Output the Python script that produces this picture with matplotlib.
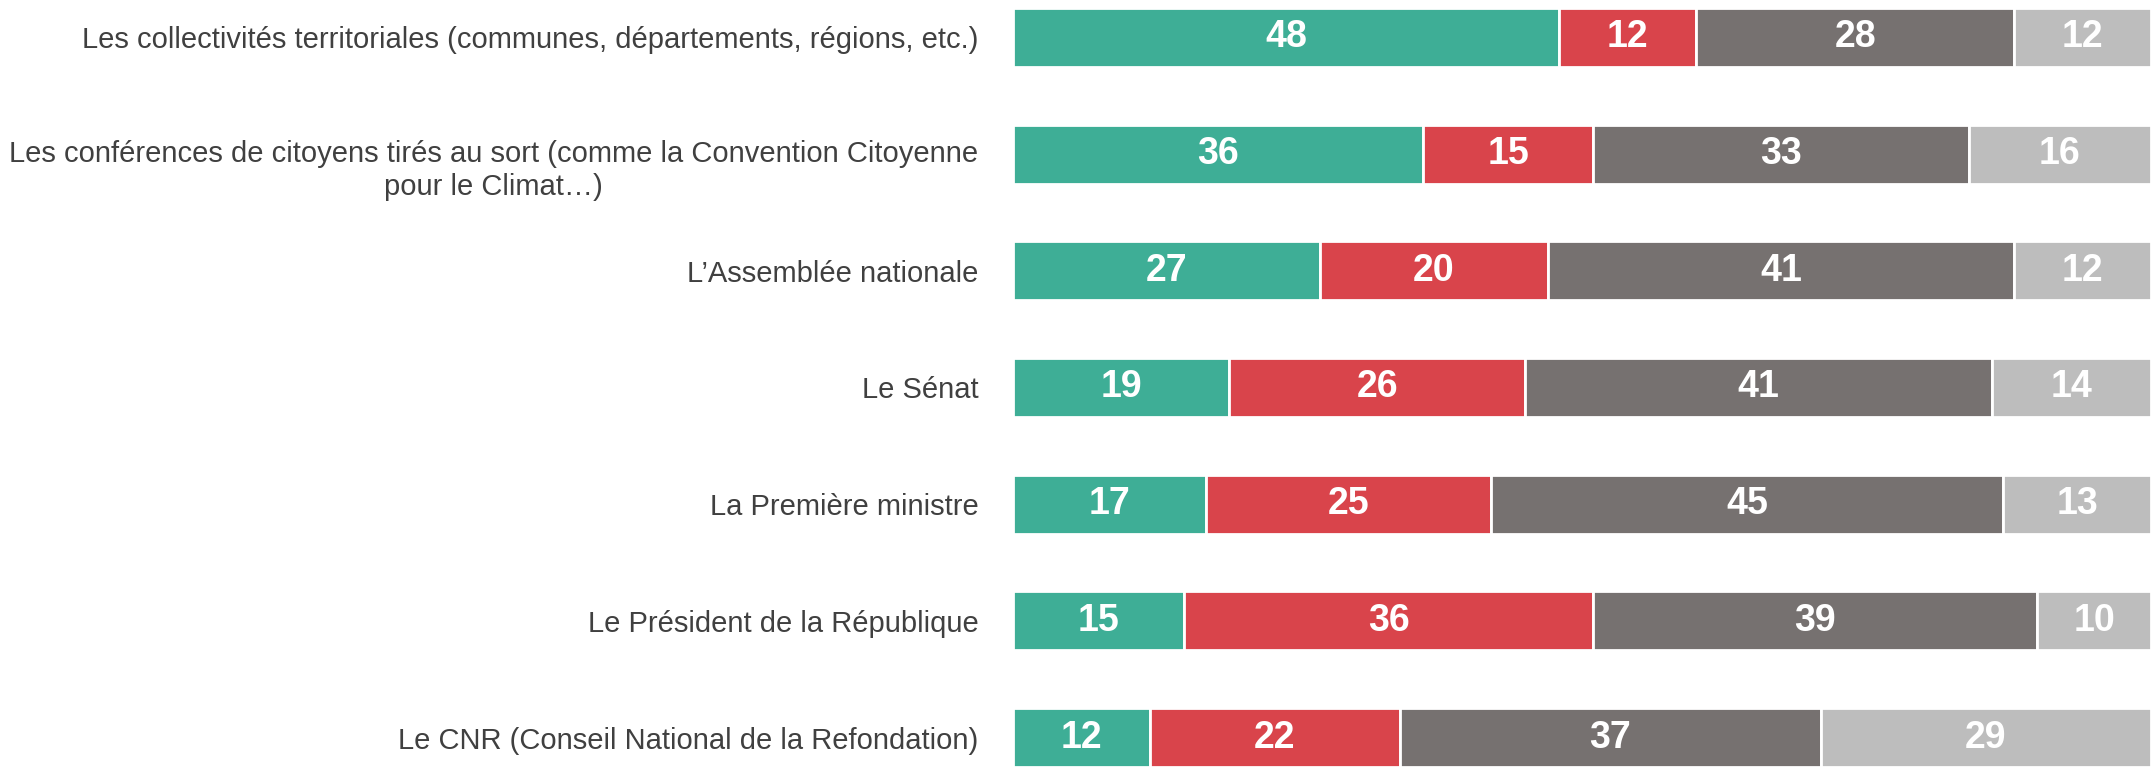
import numpy as np
import matplotlib.pyplot as plt
import matplotlib.transforms as mtransforms

plt.rcParams['font.family'] = ['Liberation Sans', 'DejaVu Sans']

categories = [
    "Les collectivités territoriales (communes, départements, régions, etc.)",
    "Les conférences de citoyens tirés au sort (comme la Convention Citoyenne\npour le Climat…)",
    "L’Assemblée nationale",
    "Le Sénat",
    "La Première ministre",
    "Le Président de la République",
    "Le CNR (Conseil National de la Refondation)",
]
s1 = [48, 36, 27, 19, 17, 15, 12]
s2 = [12, 15, 20, 26, 25, 36, 22]
s3 = [28, 33, 41, 41, 45, 39, 37]
s4 = [12, 16, 12, 14, 13, 10, 29]
colors = ['#3eae96', '#d9444b', '#767170', '#bdbdbd']

fig = plt.figure(figsize=(21.51, 7.67), dpi=100)
ax = fig.add_axes([1013 / 2151, 0.0, 1 - 1013 / 2151, 1 - 8 / 767])

h = 0.505
y = np.arange(len(categories))
left = np.zeros(len(categories))
for vals, c in zip([s1, s2, s3, s4], colors):
    vals = np.array(vals)
    ax.barh(y, vals, left=left, height=h, color=c, edgecolor='white', linewidth=2)
    for yi, l, v in zip(y, left, vals):
        ax.text(l + v / 2, yi, str(v), ha='center', va='center',
                color='white', fontsize=27, fontweight='bold')
    left += vals

ax.set_xlim(0, 100)
ax.set_ylim(len(categories) - 1 + h / 2, -h / 2)
ax.set_yticks(y)
ax.set_yticklabels(categories, fontsize=21, color='#404040', multialignment='center')
ax.tick_params(axis='y', length=0, pad=25)
ax.set_xticks([])
for sp in ax.spines.values():
    sp.set_visible(False)

# two-line label sits a little lower in the original
lbl = ax.get_yticklabels()[1]
lbl.set_transform(lbl.get_transform() + mtransforms.ScaledTranslation(0, -0.11, fig.dpi_scale_trans))

fig.savefig('out.png', dpi=100)
